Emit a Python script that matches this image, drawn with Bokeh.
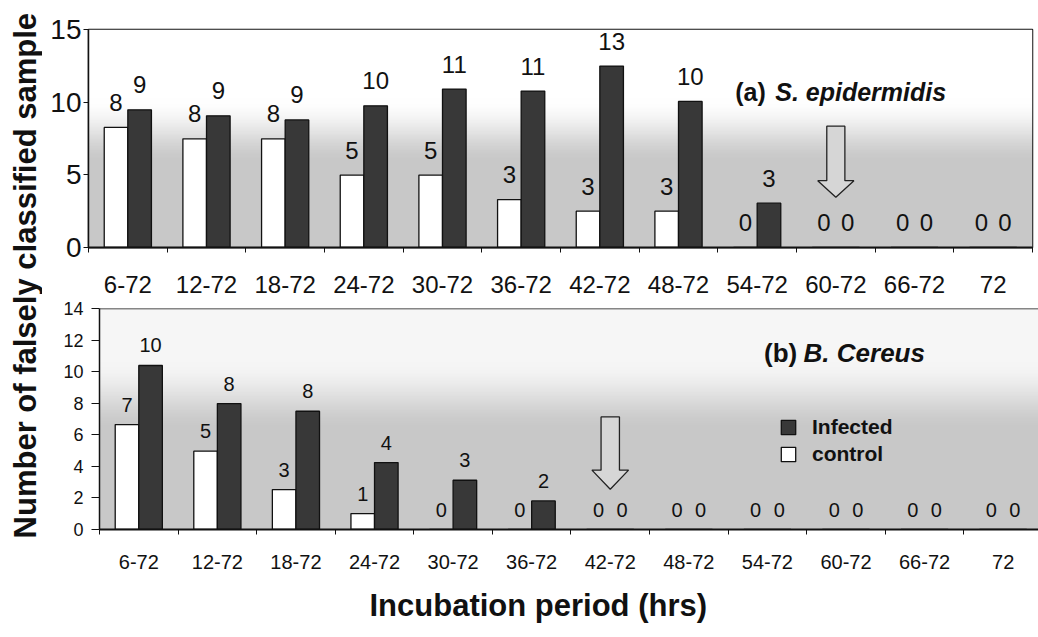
import numpy as np
from bokeh.plotting import figure
from bokeh.models import Range1d, FixedTicker, Label, Legend, LegendItem, Span, Title
from bokeh.layouts import row, column
from bokeh.embed import file_html
from bokeh.resources import INLINE
from bokeh.core.properties import value

# ---------------- data ----------------
categories = ["6-72", "12-72", "18-72", "24-72", "30-72", "36-72",
              "42-72", "48-72", "54-72", "60-72", "66-72", "72"]

# (a) S. epidermidis
control_a = [8.26, 7.48, 7.48, 4.98, 4.98, 3.30, 2.50, 2.50, 0, 0, 0, 0]
infected_a = [9.47, 9.06, 8.78, 9.75, 10.90, 10.76, 12.48, 10.05, 3.05, 0, 0, 0]
control_a_labels = ["8", "8", "8", "5", "5", "3", "3", "3", "0", "0", "0", "0"]
infected_a_labels = ["9", "9", "9", "10", "11", "11", "13", "10", "3", "0", "0", "0"]

# (b) B. Cereus
control_b = [6.65, 4.96, 2.53, 1.01, 0, 0, 0, 0, 0, 0, 0, 0]
infected_b = [10.39, 7.98, 7.49, 4.24, 3.12, 1.81, 0, 0, 0, 0, 0, 0]
control_b_labels = ["7", "5", "3", "1", "0", "0", "0", "0", "0", "0", "0", "0"]
infected_b_labels = ["10", "8", "8", "4", "3", "2", "0", "0", "0", "0", "0", "0"]

y_ticks_a = [0, 5, 10, 15]
y_ticks_b = [0, 2, 4, 6, 8, 10, 12, 14]

series_names = ["Infected", "control"]
title_a = ("(a)", "S. epidermidis")
title_b = ("(b)", "B. Cereus")
y_title = "Number of falsely classified sample"
x_title = "Incubation period (hrs)"

# annotation arrows: (category index, top, head base, tip)
arrow_a = (9, 8.35, 4.6, 3.46)
arrow_b = (6, 7.13, 3.76, 2.55)

# ---------------- style ----------------
FONT = "Liberation Sans"
INK = "#111111"
DARK = "#383838"
BAR_W = 0.3

idx = np.arange(len(categories))


def gradient(g_top, g_bot, t0, t1, h=160, w=320, side=0.0):
    rows = np.arange(h)[:, None] / (h - 1)          # 0 bottom .. 1 top
    t = 1.0 - rows                                    # 0 top .. 1 bottom
    cols = np.arange(w)[None, :] / (w - 1)
    s = np.clip((t - t0 + side * cols) / (t1 - t0), 0, 1)
    s = s * s * (3 - 2 * s)
    g = (g_top + (g_bot - g_top) * s).astype(np.uint8)
    img = np.empty((h, w), dtype=np.uint32)
    v = img.view(dtype=np.uint8).reshape((h, w, 4))
    v[:, :, 0] = g
    v[:, :, 1] = g
    v[:, :, 2] = g
    v[:, :, 3] = 255
    return img


def style_common(p, yticks, ytick_size, ytick_standoff, ytick_out,
                 xtick_size, xtick_standoff):
    p.xgrid.visible = False
    p.ygrid.visible = False
    p.background_fill_color = "white"
    p.border_fill_color = "white"
    xa = p.xaxis[0]
    xa.ticker = FixedTicker(ticks=list(idx), minor_ticks=[i - 0.5 for i in range(len(categories) + 1)])
    xa.major_label_overrides = {int(i): c for i, c in enumerate(categories)}
    xa.major_tick_out = 0
    xa.major_tick_in = 0
    xa.minor_tick_out = 5
    xa.minor_tick_in = 0
    xa.minor_tick_line_color = INK
    xa.axis_line_color = INK
    xa.axis_line_width = 2
    xa.major_label_text_font = FONT
    xa.major_label_text_font_size = xtick_size
    xa.major_label_text_color = INK
    xa.major_label_standoff = xtick_standoff
    ya = p.yaxis[0]
    ya.ticker = FixedTicker(ticks=yticks, minor_ticks=[])
    ya.major_tick_out = ytick_out
    ya.major_tick_in = 0
    ya.major_tick_line_color = INK
    ya.axis_line_color = INK
    ya.axis_line_width = 1.5
    ya.major_label_text_font = FONT
    ya.major_label_text_font_size = ytick_size
    ya.major_label_text_color = INK
    ya.major_label_standoff = ytick_standoff


def bars_and_labels(p, ctl, inf, ctl_lab, inf_lab, lab_size, lab_off):
    rc = p.vbar(x=idx - BAR_W / 2, top=ctl, width=BAR_W, bottom=0,
                fill_color="white", line_color=INK, line_width=1.3)
    ri = p.vbar(x=idx + BAR_W / 2, top=inf, width=BAR_W, bottom=0,
                fill_color=DARK, line_color=INK, line_width=1.3)
    p.text(x=idx - BAR_W / 2, y=ctl, text=ctl_lab, y_offset=-lab_off,
           text_align="center", text_baseline="middle",
           text_font=value(FONT), text_font_size=lab_size, text_color=INK)
    p.text(x=idx + BAR_W / 2, y=inf, text=inf_lab, y_offset=-lab_off,
           text_align="center", text_baseline="middle",
           text_font=value(FONT), text_font_size=lab_size, text_color=INK)
    return rc, ri


def block_arrow(p, spec, hs=0.115, hh=0.23):
    cx, ytop, yhead, ytip = spec
    xs = [cx - hs, cx + hs, cx + hs, cx + hh, cx, cx - hh, cx - hs]
    ys = [ytop, ytop, yhead, yhead, ytip, yhead, yhead]
    p.patch(xs, ys, fill_color="#d6d6d6", line_color="#222222", line_width=1.3)


def panel_title(p, spec, x_right, x_left, y, size):
    p.add_layout(Label(x=x_right, y=y, text=spec[0], text_align="right", text_baseline="middle",
                       text_font=FONT, text_font_size=size, text_font_style="bold", text_color=INK))
    p.add_layout(Label(x=x_left, y=y, text=spec[1], text_align="left", text_baseline="middle",
                       text_font=FONT, text_font_size=size, text_font_style="bold italic", text_color=INK))


# ---------------- top panel ----------------
top = figure(width=996, height=297, x_range=Range1d(-0.5, 11.5), y_range=Range1d(0, 15),
             output_backend="svg", toolbar_location=None,
             min_border_left=46, min_border_right=6, min_border_top=29, min_border_bottom=50)
style_common(top, y_ticks_a, "28px", 2, 5, "24px", 23)
top.outline_line_color = INK
top.outline_line_width = 1.5
top.image_rgba(image=[gradient(255, 200, 0.32, 0.62)], x=-0.5, y=0, dw=12, dh=15, level="underlay")
bars_and_labels(top, control_a, infected_a, control_a_labels, infected_a_labels, "24px", 25)
block_arrow(top, arrow_a)
panel_title(top, title_a, 8.11, 8.23, 10.67, "25px")

# ---------------- bottom panel ----------------
bot = figure(width=996, height=340, x_range=Range1d(-0.5, 11.45), y_range=Range1d(0, 14),
             output_backend="svg", toolbar_location=None,
             min_border_left=57, min_border_right=0, min_border_top=11, min_border_bottom=108)
style_common(bot, y_ticks_b, "18px", 8, 8, "20px", 20)
bot.outline_line_color = None
bot.add_layout(Span(location=14, dimension="width", line_color=INK, line_width=1.5))
bot.image_rgba(image=[gradient(246, 200, 0.24, 0.56)], x=-0.5, y=0, dw=11.95, dh=14, level="underlay")
rc, ri = bars_and_labels(bot, control_b, infected_b, control_b_labels, infected_b_labels, "20px", 20)
block_arrow(bot, arrow_b, hs=0.117, hh=0.233)
panel_title(bot, title_b, 8.38, 8.46, 11.17, "26px")

legend = Legend(items=[LegendItem(label=series_names[0], renderers=[ri]),
                       LegendItem(label=series_names[1], renderers=[rc])],
                location=(680, 63), orientation="vertical",
                glyph_width=18, glyph_height=18, label_standoff=15, spacing=3,
                padding=0, margin=0, border_line_color=None, background_fill_alpha=0,
                label_text_font=FONT, label_text_font_size="21px", label_text_font_style="bold",
                label_text_color=INK)
bot.add_layout(legend)

bot.add_layout(Title(text=x_title, align="left", offset=270, standoff=29,
                     text_font=FONT, text_font_size="31px", text_font_style="bold",
                     text_color=INK), "below")

# ---------------- shared y label ----------------
lab = figure(width=42, height=637, x_range=Range1d(0, 1), y_range=Range1d(0, 1),
             x_axis_type=None, y_axis_type=None, output_backend="svg", toolbar_location=None,
             min_border=0)
lab.outline_line_color = None
lab.grid.visible = False
lab.add_layout(Label(x=25 / 42, y=0.568, text=y_title, angle=np.pi / 2, text_align="center",
                     text_baseline="middle", text_font=FONT, text_font_size="31px",
                     text_font_style="bold", text_color=INK))

layout = row(lab, column(row(top), row(bot)))
open("out.html", "w").write(file_html(layout, INLINE))
